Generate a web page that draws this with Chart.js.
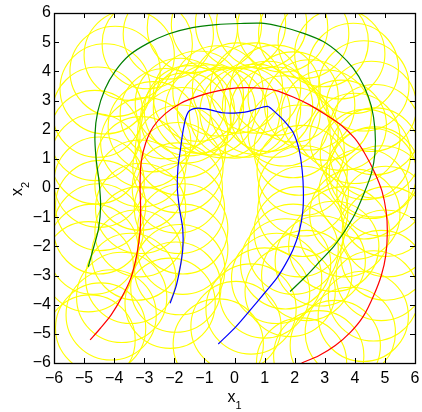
<!DOCTYPE html>
<html>
<head>
  <title>Trajectories with footprints</title>
  <script src="https://cdn.jsdelivr.net/npm/chart.js"></script>
  <style>
    body { margin: 0; background: #fff; }
  </style>
</head>
<body>
  <canvas id="trajChart" width="422" height="412"></canvas>

  <script>
    // tick values for both axes
    const axisTicks = [-6, -5, -4, -3, -2, -1, 0, 1, 2, 3, 4, 5, 6];

    // footprint radius (data units)
    const footprint = 1.5;

    // outer trajectory (green)
    const greenX = [-4.86, -4.7, -4.52, -4.45, -4.5, -4.6, -4.64, -4.55, -4.3, -3.97, -3.5, -2.9, -2.2, -1.4, -0.6, 0.2, 0.9, 1.6, 2.3, 2.95, 3.5, 3.95, 4.3, 4.55, 4.67, 4.67, 4.55, 4.3, 4.0, 3.65, 3.3, 2.85, 2.4, 1.85];
    const greenY = [-2.7, -2.1, -1.4, -0.6, 0.2, 1.0, 1.8, 2.6, 3.4, 4.0, 4.55, 4.95, 5.28, 5.5, 5.6, 5.64, 5.65, 5.52, 5.3, 5.02, 4.6, 4.1, 3.5, 2.8, 2.0, 1.2, 0.5, -0.2, -0.9, -1.5, -2.0, -2.5, -3.0, -3.55];

    // middle trajectory (red)
    const redX = [-4.8, -4.45, -4.1, -3.75, -3.45, -3.25, -3.14, -3.12, -3.14, -3.1, -2.95, -2.7, -2.3, -1.8, -1.2, -0.55, 0.1, 0.7, 1.35, 1.95, 2.5, 3.05, 3.55, 4.0, 4.35, 4.65, 4.9, 5.04, 5.08, 5.03, 4.88, 4.62, 4.28, 3.85, 3.35, 2.8, 2.23];
    const redY = [-5.21, -4.8, -4.35, -3.75, -3.1, -2.3, -1.5, -0.7, 0.1, 0.9, 1.55, 2.1, 2.55, 2.9, 3.15, 3.33, 3.43, 3.43, 3.35, 3.12, 2.85, 2.5, 2.15, 1.7, 1.15, 0.55, -0.1, -0.8, -1.5, -2.3, -3.0, -3.7, -4.4, -4.95, -5.4, -5.75, -6.0];

    // inner trajectory (blue)
    const blueX = [-2.14, -1.95, -1.82, -1.72, -1.72, -1.83, -1.9, -1.88, -1.8, -1.72, -1.62, -1.5, -1.2, -0.8, -0.4, 0.0, 0.35, 0.7, 1.1, 1.35, 1.65, 1.95, 2.15, 2.25, 2.29, 2.27, 2.15, 1.95, 1.7, 1.4, 1.0, 0.55, 0.05, -0.54];
    const blueY = [-3.95, -3.4, -2.8, -2.1, -1.4, -0.7, 0.0, 0.7, 1.3, 1.9, 2.4, 2.65, 2.74, 2.68, 2.58, 2.57, 2.6, 2.7, 2.8, 2.6, 2.3, 1.9, 1.3, 0.6, -0.1, -0.8, -1.5, -2.1, -2.6, -3.1, -3.6, -4.15, -4.75, -5.35];

    const toPoints = (xs, ys) => xs.map((x, i) => ({ x: x, y: ys[i] }));
    const fmt = v => String(v).replace('-', '\u2212');
    const family = '"Liberation Sans", Arial, sans-serif';
    const font = { family: family, size: 16 };

    function circleRadius(ctx) {
      const s = ctx.chart.scales.x;
      return Math.abs(s.getPixelForValue(footprint) - s.getPixelForValue(0));
    }

    function curve(xs, ys, color) {
      return {
        data: toPoints(xs, ys),
        showLine: true,
        borderColor: color,
        borderWidth: 1.2,
        pointRadius: 0,
        tension: 0.25,
        clip: 0,
        order: 1
      };
    }

    function circles(xs, ys) {
      return {
        data: toPoints(xs, ys),
        showLine: false,
        pointStyle: 'circle',
        pointRadius: circleRadius,
        pointHoverRadius: circleRadius,
        pointBorderColor: '#ffff00',
        pointBackgroundColor: 'rgba(0,0,0,0)',
        pointBorderWidth: 1.1,
        clip: 0,
        order: 2
      };
    }

    // black box with inward ticks on all four sides
    const boxTicks = {
      id: 'boxTicks',
      afterDatasetsDraw(chart) {
        const { ctx, chartArea: a, scales: { x, y } } = chart;
        ctx.save();
        ctx.strokeStyle = '#000';
        ctx.lineWidth = 1;
        ctx.beginPath();
        x.ticks.forEach(t => {
          const px = Math.round(x.getPixelForValue(t.value)) + 0.5;
          ctx.moveTo(px, a.bottom); ctx.lineTo(px, a.bottom - 5);
          ctx.moveTo(px, a.top); ctx.lineTo(px, a.top + 5);
        });
        y.ticks.forEach(t => {
          const py = Math.round(y.getPixelForValue(t.value)) + 0.5;
          ctx.moveTo(a.left, py); ctx.lineTo(a.left + 5, py);
          ctx.moveTo(a.right, py); ctx.lineTo(a.right - 5, py);
        });
        ctx.stroke();
        ctx.lineWidth = 1.3;
        ctx.strokeRect(Math.round(a.left) + 0.5, Math.round(a.top) + 0.5,
                       Math.round(a.right - a.left), Math.round(a.bottom - a.top));
        ctx.restore();
      }
    };

    // axis titles with a real subscript: x1 below, x2 rotated on the left
    function subscriptLabel(ctx, main, sub) {
      ctx.font = '16px ' + family;
      const w1 = ctx.measureText(main).width;
      ctx.font = '11px ' + family;
      const w2 = ctx.measureText(sub).width;
      const left = -(w1 + w2) / 2;
      ctx.font = '16px ' + family;
      ctx.fillText(main, left, 0);
      ctx.font = '11px ' + family;
      ctx.fillText(sub, left + w1, 7);
    }

    const axisTitles = {
      id: 'axisTitles',
      afterDraw(chart) {
        const { ctx, chartArea: a } = chart;
        ctx.save();
        ctx.fillStyle = '#000';
        ctx.textBaseline = 'alphabetic';
        ctx.textAlign = 'left';
        ctx.save();
        ctx.translate((a.left + a.right) / 2, 402);
        subscriptLabel(ctx, 'x', '1');
        ctx.restore();
        ctx.save();
        ctx.translate(22, (a.top + a.bottom) / 2 + 1);
        ctx.rotate(-Math.PI / 2);
        subscriptLabel(ctx, 'x', '2');
        ctx.restore();
        ctx.restore();
      }
    };

    const setTicks = s => { s.ticks = axisTicks.map(v => ({ value: v })); };

    new Chart(document.getElementById('trajChart').getContext('2d'), {
      type: 'scatter',
      data: {
        datasets: [
          curve(greenX, greenY, '#008000'),
          curve(redX, redY, '#ff0000'),
          curve(blueX, blueY, '#0000ff'),
          circles(greenX, greenY),
          circles(redX, redY),
          circles(blueX, blueY)
        ]
      },
      options: {
        responsive: false,
        animation: false,
        events: [],
        layout: { padding: { top: 13, right: 7, left: 0, bottom: 0 } },
        plugins: { legend: { display: false }, tooltip: { enabled: false } },
        scales: {
          x: {
            type: 'linear', min: -6, max: 6,
            afterBuildTicks: setTicks,
            afterFit: s => { s.height = 49; s.paddingLeft = 0; s.paddingRight = 0; },
            grid: { display: false, drawTicks: false },
            border: { display: false },
            ticks: { color: '#000', font: font, padding: 6, maxRotation: 0, autoSkip: false, callback: v => fmt(v) }
          },
          y: {
            type: 'linear', min: -6, max: 6,
            afterBuildTicks: setTicks,
            afterFit: s => { s.width = 54; s.paddingTop = 0; s.paddingBottom = 0; },
            grid: { display: false, drawTicks: false },
            border: { display: false },
            ticks: { color: '#000', font: font, padding: 3, autoSkip: false, callback: v => fmt(v) }
          }
        }
      },
      plugins: [boxTicks, axisTitles]
    });
  </script>
</body>
</html>
